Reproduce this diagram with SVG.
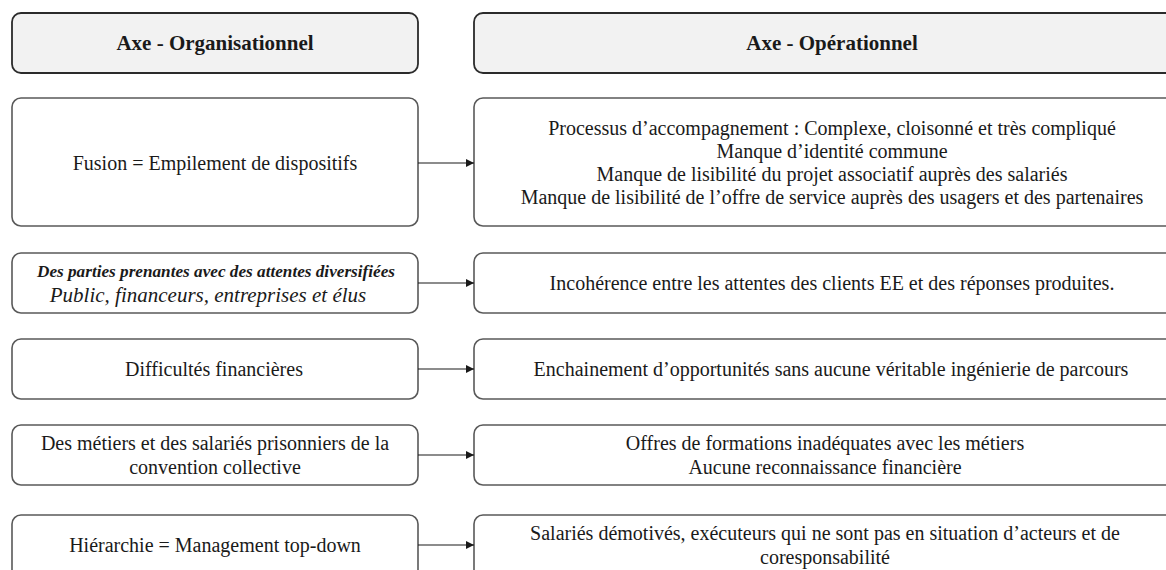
<svg xmlns="http://www.w3.org/2000/svg" width="1166" height="570" viewBox="0 0 1166 570">
<style>
.hdr{fill:#f2f2f2;stroke:#2b2b2b;stroke-width:1.8}
.box{fill:#ffffff;stroke:#595959;stroke-width:1.6}
text{font-family:"Liberation Serif","Times New Roman",Times,serif;fill:#1a1a1a;text-anchor:middle}
.ht{font-size:21px;font-weight:bold}
.t{font-size:20px}
.bi{font-size:17.2px;font-weight:bold;font-style:italic}
.it{font-size:21px;font-style:italic}
.conn{stroke:#1a1a1a;stroke-width:1.2;fill:none}
</style>
<defs>
<marker id="arr" viewBox="0 0 10 10" refX="10" refY="5" markerWidth="8" markerHeight="8" markerUnits="userSpaceOnUse" orient="auto">
<path d="M0,0 L10,5 L0,10 Z" fill="#1a1a1a"/>
</marker>
</defs>
<rect width="1166" height="570" fill="#ffffff"/>
<g id="h-org"><rect class="hdr" x="12" y="13" width="406" height="60" rx="9"/><text class="ht" x="215" y="50">Axe - Organisationnel</text></g>
<g id="h-op"><rect class="hdr" x="474" y="13" width="716" height="60" rx="9"/><text class="ht" x="832" y="50">Axe - Opérationnel</text></g>

<g id="l1"><rect class="box" x="12" y="98" width="406" height="128" rx="9"/><text class="t" x="215" y="170">Fusion = Empilement de dispositifs</text></g>
<g id="r1"><rect class="box" x="474" y="98" width="716" height="128" rx="9"/>
<text class="t" x="832" y="135">Processus d’accompagnement : Complexe, cloisonné et très compliqué</text>
<text class="t" x="832" y="158">Manque d’identité commune</text>
<text class="t" x="832" y="181">Manque de lisibilité du projet associatif auprès des salariés</text>
<text class="t" x="832" y="204">Manque de lisibilité de l’offre de service auprès des usagers et des partenaires</text></g>

<g id="l2"><rect class="box" x="12" y="253" width="406" height="60" rx="9"/>
<text class="bi" x="216" y="277">Des parties prenantes avec des attentes diversifiées</text>
<text class="it" x="208" y="302">Public, financeurs, entreprises et élus</text></g>
<g id="r2"><rect class="box" x="474" y="253" width="716" height="60" rx="9"/><text class="t" x="832" y="290">Incohérence entre les attentes des clients EE et des réponses produites.</text></g>

<g id="l3"><rect class="box" x="12" y="339" width="406" height="60" rx="9"/><text class="t" x="214" y="376">Difficultés financières</text></g>
<g id="r3"><rect class="box" x="474" y="339" width="716" height="60" rx="9"/><text class="t" x="831" y="376">Enchainement d’opportunités sans aucune véritable ingénierie de parcours</text></g>

<g id="l4"><rect class="box" x="12" y="425" width="406" height="60" rx="9"/>
<text class="t" x="215" y="450">Des métiers et des salariés prisonniers de la</text>
<text class="t" x="215" y="474">convention collective</text></g>
<g id="r4"><rect class="box" x="474" y="425" width="716" height="60" rx="9"/>
<text class="t" x="825" y="450">Offres de formations inadéquates avec les métiers</text>
<text class="t" x="825" y="474">Aucune reconnaissance financière</text></g>

<g id="l5"><rect class="box" x="12" y="515" width="406" height="70" rx="9"/><text class="t" x="215" y="552">Hiérarchie = Management top-down</text></g>
<g id="r5"><rect class="box" x="474" y="515" width="716" height="70" rx="9"/>
<text class="t" x="825" y="540">Salariés démotivés, exécuteurs qui ne sont pas en situation d’acteurs et de</text>
<text class="t" x="825" y="564">coresponsabilité</text></g>

<g id="connectors">
<line class="conn" x1="418" y1="163" x2="474" y2="163" marker-end="url(#arr)"/>
<line class="conn" x1="418" y1="283" x2="474" y2="283" marker-end="url(#arr)"/>
<line class="conn" x1="418" y1="369" x2="474" y2="369" marker-end="url(#arr)"/>
<line class="conn" x1="418" y1="455" x2="474" y2="455" marker-end="url(#arr)"/>
<line class="conn" x1="418" y1="545" x2="474" y2="545" marker-end="url(#arr)"/>
</g>
</svg>
